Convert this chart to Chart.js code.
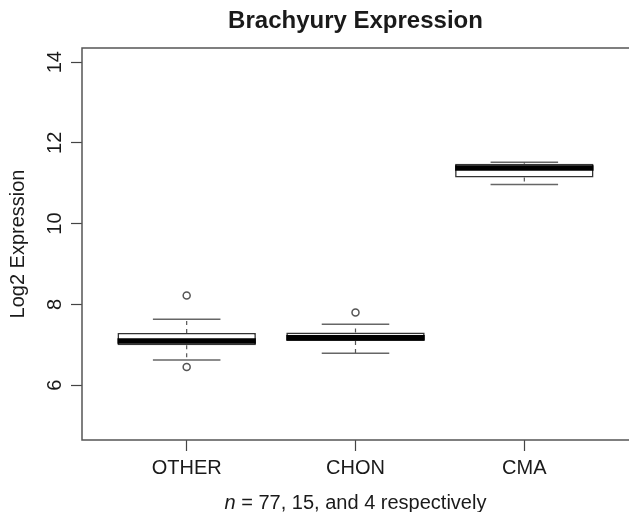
<!DOCTYPE html>
<html>
<head>
<meta charset="utf-8">
<script src="https://cdn.jsdelivr.net/npm/chart.js@4.4.1/dist/chart.umd.min.js"></script>
<style>
    html, body { margin: 0; padding: 0; background: #ffffff; }
    #wrap { width: 629px; height: 512px; }
</style>
</head>
<body>
<div id="wrap"><canvas id="boxChart" width="629" height="512"></canvas></div>
<script>

// values
const categories = ['OTHER', 'CHON', 'CMA'];
const xTicks = [1, 2, 3];
const yTicks = [6, 8, 10, 12, 14];

const whiskerLow = [6.62, 6.79, 10.97];
const q1 = [6.99, 7.09, 11.14];
const medians = [7.09, 7.17, 11.38];
const q3 = [7.29, 7.30, 11.48];
const whiskerHigh = [7.63, 7.51, 11.52];
const outliers = [[8.22, 6.45], [7.80], []];

const chartTitle = 'Brachyury Expression';
const yTitle = 'Log2 Expression';
const subtitleItalic = 'n';
const subtitleRest = ' = 77, 15, and 4 respectively';

const FONT = '"Liberation Sans", Arial, sans-serif';
const TEXT = '#1a1a1a';
const BOX_HALF = 0.41;
const CAP_HALF = 0.2;

function segment(x1, y1, x2, y2, style) {

    return Object.assign({
        type: 'line',
        data: [{ x: x1, y: y1 }, { x: x2, y: y2 }],
        pointRadius: 0,
        fill: false,
        tension: 0,
        order: 2
    }, style);

}

function buildDatasets() {

    const sets = [];

    sets.push({
        type: 'bar',
        data: categories.map((c, i) => ({ x: xTicks[i], y: [q1[i], q3[i]] })),
        backgroundColor: '#ffffff',
        borderColor: '#333333',
        borderWidth: 1.6,
        borderSkipped: false,
        categoryPercentage: 1,
        barPercentage: BOX_HALF * 2,
        grouped: false,
        order: 3
    });

    categories.forEach((c, i) => {

        const x = xTicks[i];

        sets.push(segment(x - BOX_HALF, medians[i], x + BOX_HALF, medians[i], {
            borderColor: '#000000',
            borderWidth: 5.5,
            order: 0
        }));

        const whisker = {
            borderColor: '#555555',
            borderWidth: 1.2,
            borderDash: [4, 4]
        };

        sets.push(segment(x, q3[i], x, whiskerHigh[i], whisker));
        sets.push(segment(x, q1[i], x, whiskerLow[i], whisker));

        const cap = {
            borderColor: '#666666',
            borderWidth: 1.5
        };

        sets.push(segment(x - CAP_HALF, whiskerHigh[i], x + CAP_HALF, whiskerHigh[i], cap));
        sets.push(segment(x - CAP_HALF, whiskerLow[i], x + CAP_HALF, whiskerLow[i], cap));

    });

    const points = [];

    outliers.forEach((list, i) => {
        list.forEach(v => points.push({ x: xTicks[i], y: v }));
    });

    sets.push({
        type: 'line',
        data: points,
        showLine: false,
        pointRadius: 3.5,
        pointStyle: 'circle',
        pointBackgroundColor: '#ffffff',
        pointBorderColor: '#555555',
        pointBorderWidth: 1.5,
        order: 1
    });

    return sets;

}

// frame on three sides, the right side falls off the canvas in the reference
const framePlugin = {
    id: 'frame',
    beforeDatasetsDraw(chart) {
        const { ctx, chartArea: a } = chart;
        ctx.save();
        ctx.strokeStyle = '#555555';
        ctx.lineWidth = 1.5;
        ctx.beginPath();
        ctx.moveTo(a.right + 2, a.top);
        ctx.lineTo(a.left, a.top);
        ctx.lineTo(a.left, a.bottom);
        ctx.lineTo(a.right + 2, a.bottom);
        ctx.stroke();
        ctx.restore();
    }
};

// title and the subtitle with its italic n, centred over the plot area like R does
const textPlugin = {
    id: 'texts',
    afterDraw(chart) {
        const { ctx, chartArea: a } = chart;
        const cx = (a.left + a.right) / 2;

        ctx.save();
        ctx.fillStyle = TEXT;
        ctx.textBaseline = 'middle';

        ctx.font = 'bold 24px ' + FONT;
        ctx.textAlign = 'center';
        ctx.fillText(chartTitle, cx, 21);

        ctx.textAlign = 'left';
        ctx.font = 'italic 20px ' + FONT;
        const wItalic = ctx.measureText(subtitleItalic).width;
        ctx.font = '20px ' + FONT;
        const wRest = ctx.measureText(subtitleRest).width;
        const start = cx - (wItalic + wRest) / 2;

        ctx.font = 'italic 20px ' + FONT;
        ctx.fillText(subtitleItalic, start, 503);
        ctx.font = '20px ' + FONT;
        ctx.fillText(subtitleRest, start + wItalic, 503);

        ctx.restore();
    }
};

function renderBoxChart() {

    const ctx =
        document.getElementById('boxChart');

    new Chart(ctx, {

        type: 'line',

        data: {
            datasets: buildDatasets()
        },

        plugins: [framePlugin, textPlugin],

        options: {

            responsive: false,
            animation: false,

            layout: {
                autoPadding: false,
                padding: { top: 48, left: 0, right: 0, bottom: 0 }
            },

            plugins: {
                legend: { display: false },
                tooltip: { enabled: false },
                title: { display: false }
            },

            scales: {

                x: {
                    type: 'linear',
                    min: 0.38,
                    max: 3.62,
                    offset: false,
                    afterBuildTicks: scale => {
                        scale.ticks = xTicks.map(v => ({ value: v }));
                    },
                    afterFit: scale => {
                        scale.height = 72;
                        scale.paddingLeft = 0;
                        scale.paddingRight = 0;
                    },
                    ticks: {
                        callback: value => categories[xTicks.indexOf(value)],
                        color: TEXT,
                        padding: 5,
                        maxRotation: 0,
                        font: { family: FONT, size: 20 }
                    },
                    grid: {
                        offset: false,
                        drawOnChartArea: false,
                        drawTicks: true,
                        tickLength: 11,
                        tickColor: '#444444',
                        tickWidth: 1.2
                    },
                    border: { display: false }
                },

                y: {
                    type: 'linear',
                    min: 4.64,
                    max: 14.35,
                    afterBuildTicks: scale => {
                        scale.ticks = yTicks.map(v => ({ value: v }));
                    },
                    afterFit: scale => {
                        scale.width = 82;
                        scale.paddingTop = 0;
                        scale.paddingBottom = 0;
                    },
                    ticks: {
                        callback: value => String(value),
                        color: TEXT,
                        padding: 4,
                        minRotation: 90,
                        maxRotation: 90,
                        crossAlign: 'center',
                        font: { family: FONT, size: 20 }
                    },
                    grid: {
                        drawOnChartArea: false,
                        drawTicks: true,
                        tickLength: 11,
                        tickColor: '#444444',
                        tickWidth: 1.2
                    },
                    border: { display: false },
                    title: {
                        display: true,
                        text: yTitle,
                        color: TEXT,
                        padding: { top: 6, bottom: 0 },
                        font: { family: FONT, size: 20 }
                    }
                }

            }

        }

    });

}

renderBoxChart();

</script>
</body>
</html>
